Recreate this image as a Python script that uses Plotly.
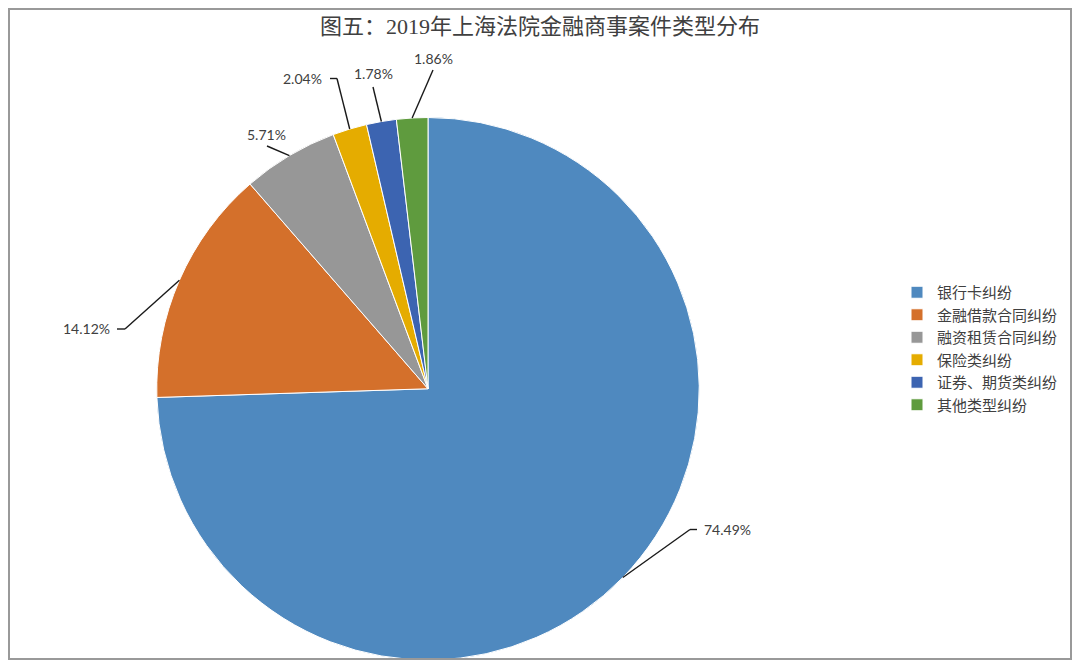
import math
import plotly.graph_objects as go

# data
categories = ["银行卡纠纷", "金融借款合同纠纷", "融资租赁合同纠纷", "保险类纠纷", "证券、期货类纠纷", "其他类型纠纷"]
shares = [74.49, 14.12, 5.71, 2.04, 1.78, 1.86]
colors = ["#4F89BF", "#D4702B", "#979797", "#E5AC00", "#3C64B1", "#5F9B3E"]

# page is 1080x668 but the browser body has an 8px margin,
# so the figure is 16px smaller and everything is placed in page coords minus 8
OFF = 8
W, H = 1080 - 2 * OFF, 668 - 2 * OFF

# pie box in page px (bottom is limited by the figure edge)
top, bottom = 117.5, min(663.5, H + OFF)
R = (bottom - top) / 2
CY = (top + bottom) / 2
CX = 428

# label layout (page px): line elbow, stub end x (or None), text anchor point, xanchor
label_layout = [
    dict(elbow=(690, 529.5), stub=697, text=(702, 529.5), anchor="left"),
    dict(elbow=(125, 329), stub=117, text=(112, 329), anchor="right"),
    dict(elbow=(267, 146), stub=None, text=(266, 134), anchor="center"),
    dict(elbow=(337, 78.5), stub=330, text=(324, 78.5), anchor="right"),
    dict(elbow=(373, 87), stub=None, text=(373, 74), anchor="center"),
    dict(elbow=(433, 70), stub=None, text=(433, 59), anchor="center"),
]


def px(x, y):
    return (x - OFF) / W, 1 - (y - OFF) / H


dx0, dy1 = px(CX - R, top)
dx1, dy0 = px(CX + R, bottom)

fig = go.Figure(go.Pie(
    labels=categories,
    values=shares,
    sort=False,
    direction="clockwise",
    rotation=0,
    marker=dict(colors=colors, line=dict(color="white", width=1)),
    textinfo="none",
    hoverinfo="label+percent",
    domain=dict(x=[dx0, dx1], y=[max(dy0, 0), dy1]),
))

shapes = [dict(type="rect", xref="paper", yref="paper", x0=0, y0=0, x1=1, y1=1,
               line=dict(color="#999999", width=4))]
annotations = []
total = sum(shares)
cum = 0
for v, lay in zip(shares, label_layout):
    mid = (cum + v / 2) / total * 2 * math.pi
    cum += v
    ex, ey = CX + R * math.sin(mid), CY - R * math.cos(mid)
    x0, y0 = px(ex, ey)
    x1, y1 = px(*lay["elbow"])
    shapes.append(dict(type="line", xref="paper", yref="paper", x0=x0, y0=y0, x1=x1, y1=y1,
                       line=dict(color="#1a1a1a", width=1.4)))
    if lay["stub"] is not None:
        sx, sy = px(lay["stub"], lay["elbow"][1])
        shapes.append(dict(type="line", xref="paper", yref="paper", x0=x1, y0=y1, x1=sx, y1=sy,
                           line=dict(color="#1a1a1a", width=1.4)))
    tx, ty = px(*lay["text"])
    annotations.append(dict(x=tx, y=ty, xref="paper", yref="paper", text=f"{v:.2f}%",
                            showarrow=False, xanchor=lay["anchor"], yanchor="middle",
                            font=dict(family="Lato, Liberation Sans, sans-serif", size=14, color="#404040")))

tx, ty = px(540, 26)
lx, ly = px(897, 276)
fig.update_layout(
    width=W, height=H,
    margin=dict(l=0, r=0, t=0, b=0),
    paper_bgcolor="white",
    title=dict(text="图五：2019年上海法院金融商事案件类型分布", x=tx, xanchor="center",
               y=ty, yanchor="middle",
               font=dict(family="Liberation Serif, Noto Sans CJK SC, serif", size=22, color="#404040")),
    legend=dict(x=lx, y=ly, xanchor="left", yanchor="top",
                font=dict(family="Noto Sans CJK SC, sans-serif", size=15, color="#404040"),
                bgcolor="rgba(0,0,0,0)"),
    shapes=shapes,
    annotations=annotations,
)

fig.write_html("out.html")
